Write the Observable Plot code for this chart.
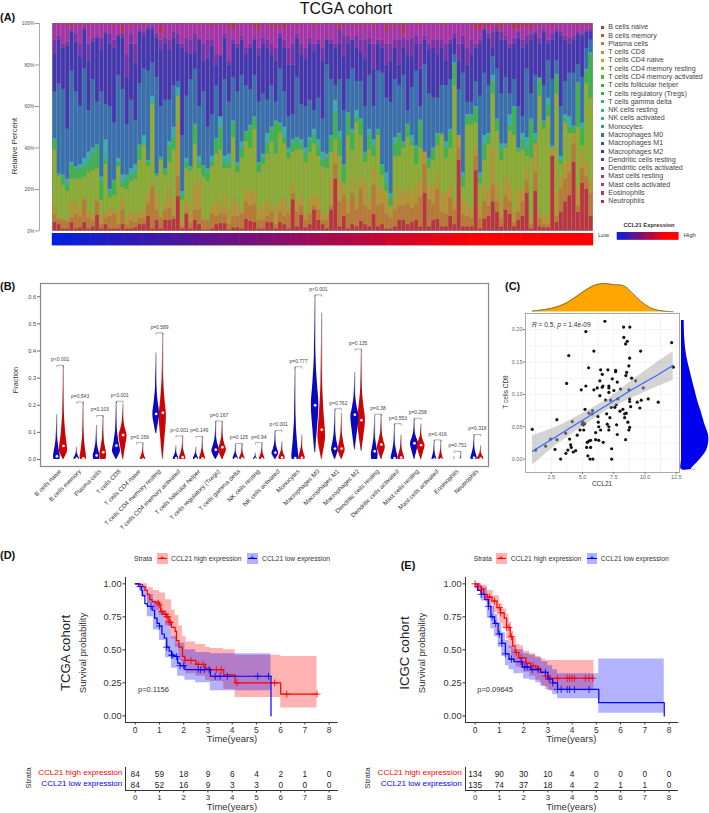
<!DOCTYPE html>
<html><head><meta charset="utf-8">
<script src="https://cdn.jsdelivr.net/npm/d3@7"></script>
<script src="https://cdn.jsdelivr.net/npm/@observablehq/plot@0.6"></script>
<style>
html,body{margin:0;padding:0;background:#fff}
#page{position:relative;width:709px;height:813px;overflow:hidden;font-family:"Liberation Sans",Arial,sans-serif}
#page svg{position:absolute;overflow:visible;background:transparent}
.lb{position:absolute;white-space:nowrap;line-height:1.2}
</style></head><body><div id="page"></div>
<script>
// ---------- Panel A data: cumulative percent read at the top of each visible band, one value per sample
const cellTypes=["B cells naive","B cells memory","Plasma cells","T cells CD8","T cells CD4 naive","T cells CD4 memory resting","T cells CD4 memory activated","T cells follicular helper","T cells regulatory (Tregs)","T cells gamma delta","NK cells resting","NK cells activated","Monocytes","Macrophages M0","Macrophages M1","Macrophages M2","Dendritic cells resting","Dendritic cells activated","Mast cells resting","Mast cells activated","Eosinophils","Neutrophils"];
const cellColors=["#c0333b","#c0552e","#bd7a2e","#b8962e","#a6ac2e","#8cb02e","#5bb32e","#3ab532","#30b552","#30b57e","#2fb39c","#2fadb2","#3093ba","#3070b8","#3050b8","#3a30b8","#6030b8","#8530b5","#a830b0","#b530a0","#b83080","#bb3058"];
const topBNaive=[4,3,1,1,4,1,1.5,4,1,2,7.5,1,3,1,1,1,3,1,1,1.5,3,3,7,1,5,1,5,5,5.5,16.5,1,8,1,
5,3,.5,.5,1,3,3.5,3.5,.5,1.5,1.5,1,5.5,4.5,4,1,1,4,4,1,4,3,1,15,2,7.5,1.5,3,10,5,3,1,10,
25,2,7,1,3,2,4.5,3,2,8,2,3,1,1,2,5,5,3,4,5,2,18,2,5,5.5,2,2,7,3,34,2,2,2,
29,1,5.5,7,14,9,2,10,8,2,5,7,18,1,19,2,1.5,1.5,36,4,9,14,17,33,9,23,20,7];
const topPlasma=[8,5.5,5,4.5,6,8,7,15,6,5,14,3,6,7,8,3,10,3,5,4,6,6,13,21,10,6,10,11,7,26,2,9,4,
10,10,5,5,8,7,8,8,3,7,7,8,14,12,13,5,5,7,9,3,9,7,8,18,9,12,5,8,12,10,5,5,12,
32,14,17,8,18,10,20,12,10,22,12,13,8,6,10,12,12,13,11,13,16,32,15,13,20,9,8,16,10,40,8,7,6,
36,6,14,12,22,14,6,17,14,4,9,14,24,3,28,6,3,3,36.5,7,20,25,28,42,12,30,26,18];
const topCD8=[12,6,6,5,14,14,10,16,9,8,16,7,9,11,10,8,16,6,10,8,9,10,18,21.5,17,8,13,20,15,52,5,14,12,
22,24,7,5,12,15,12,17,10,16,13,10,20,18,20,10,12,15,12,10,14,16,12,22,14,17,8,15,18,16,9,8,25,
38,25,21,15,25,15,26,23,15,30,20,20,17,11,15,20,18,21,18,22,24,38,21,22,28,18,18,22,14,46,15,12,11,
40,12,21,20,40,22,14,26,23,9,19,20,30,7,42,10,6,7,40,18,26,32,34,47,21,38,33,24];
const topCD4Resting=[39,26,22,19,25,25,25,26,28,29,30,15,32,16,17,31,21,20,24,25,34,41,31,61,26,34,27,33,39,65,15,30,29,
42,30,26,24,31,37,39,30,30,45,28,35,43,40,49,28,32,37,43,37,47,42,35,38,39,39,33,38,42,36,31,30,38,
44,36,23,46,39,52,46,33,39,36,46,27,19,12,36,36,40,45,41,32,40,25,30,34,41,46,35,40,70,22,21,51,51,
52,23,34,42,66,48,34,40,48,46,38,39,36,35,40,65,49,55,36,66,32,52,47,45,50,41,71,64];
const topTregs=[44,27,26,22,32,30,30,31,33,37,41,24,35,19,24,33,23,25,27,28,41,41.5,33,62,27,35,29,41,45,65.5,17,33,30,
51,33,31,28,33,44,50,33,32,52,31,40,47,50,54,32,35,42,49,52,51,45,38,42,44,41,37,43,46,41,34,35,45,
57,45,31,56,47,55,53,37,46,41,48,31,23,16,42,46,42,51,43,40,53,31,34,39,46,47,40,48,80,27,26,55,55,
59,26,42,46,72,53,39,41,51,59,39,44,40,53,44,73,52,61,40,75,34,54,50,50,71,49,77,85];
const topNKActivated=[44.5,27.5,27,25,33,31,32,35,38,40,41.5,26,44,20,24.5,35,27,27,30,32,41.5,46,34,65,27.5,35.5,30,43,50,69,19,35,31,
51.5,36,31.5,30,36,44.5,55,36,37,53,33,43,48,51,55,33,37,47,50,53,52,50,40,44,45,44,40,45,49,44,38,37,46,
63,48,32,57,49,58,54,38,49,44,49,32,28,18,45,47,43,51.5,46,41,53.5,33,35,40,47,47,43,49,81,29,28,56,56,
60,28,46,47,75,54,42,42,56,60,40,47,45,54,47,73.5,53,64,41,75.5,36,56,55,50.5,71.5,52,78,86];
const topM0=[67,71,68,49,77,67,60,78,58,73,62,67,61,60,52,75,68,51,63,53,71,78,77,81,74,60,63,63,70,72,46,65,73,
78,60,67,50,56,70,55,73,62,74,67,75,70,68,75,62,66,63,70,62,78,67,55,56,74,61,60,63,58,64,54,80,73,
70,73,58,73,78,72,72,60,75,60,77,76,64,62,73,70,75,58,69,77,60,80,66,64,64,70,70,73,85,68,76,62,62,
72,65,76,70,84,78,66,74,66,73,60,55,78,66,75,74,70,82,73,82,60,72,76,76,80,74,88,92];
const topM2=[85,92,88,89,96,91,84,97,82,91,93,87,95,90,88,94,93,74,90,81,96,94,97,97,93,87,90,87,93,90,88,86,85,
86,92,82,83,89,80,84,93,80,90,88,92,85,88,92,84,90,88,85,82,93,88,80,80,93,85,83,90,86,90,82,92,90,
88,90,84,90,92,88,86,83,90,78,90,88,80,82,88,80,88,85,84,90,78,92,87,88,85,88,82,90,93,82,90,80,85,
88,90,97,93,88,96,92,92,88,90,93,88,90,92,95,90,96,90,92,96,94,92,90,92,95,94,96,96];
const topDendritic=[92,94,90,91,97,95,90,98,90,93,94,93,96,95,92,95,95,85,95,90,97,96,98,98,95,92,93,92,96,95,90,93,92,
95,93,90,92,92,85,85,95,82,92,90,94,88,90,93,88,93,92,90,88,95,92,88,90,95,90,88,93,90,92,88,93,92,
90,97,94,94,92,94,92,92,93,90,92,92,90,90,92,92,93,92,93,94,90,94,90,92,92,92,90,92,95,90,94,88,92,
90,92,97,95,96,98,96,94,90,93,96,92,94,95,96,93,97,92,95,97,96,94,93,94,96,95,96.5,97];
const topMast=[100,99,100,99,98,100,99,99,99,100,100,99,100,100,99,100,89,100,98,100,100,99,100,100,100,95,100,100,100,100,100,99,100,
100,99,99,100,98,99,100,100,98,97,100,100,99,100,98,97,100,100,98,98,100,97,99,100,98,100,100,100,98,100,100,99,100,
100,97,99,100,100,98,100,99,100,98,100,100,96,100,98,100,95,100,100,99,98,100,100,100,99,100,98,100,100,100,100,100,100,
97,97,99,98,100,98,97,100,99,97,97,99,98,97,100,99,100,100,98,100,99,100,100,99,99,100,99,100];
const ccl21Rank=topBNaive.map((_,i)=>i);

// ---------- Panel B data (one value per cell type)
const vTopBlue=[.165,.045,.125,.213,0,.393,.05,.045,.14,.055,.023,.105,.34,.605,.185,.32,.16,.13,.15,.07,.01,.09];
const vTopRed=[.345,.21,.16,.203,.06,.465,.085,.083,.14,.057,.06,.065,.09,.54,.17,.405,.165,.09,.13,.07,.028,.05];
const vMedBlue=[.012,.004,.015,.051,0,.168,.005,.003,.036,.004,.002,.025,.005,.2,.04,.165,.03,.005,.06,.001,0,.006];
const vMedRed=[.05,.004,.027,.09,.001,.172,.008,.004,.045,.004,.003,.007,.006,.11,.04,.145,.055,.007,.053,.001,0,.004];
const vBotBlue=[0,0,0,0,0,.095,0,0,0,0,0,0,0,.025,0,.035,0,0,0,0,0,0];
const vBotRed=[0,0,0,0,0,0,0,0,0,0,0,0,0,0,0,.03,0,0,0,0,0,0];
const vPeakBlue=[.01,.004,.012,.03,0,.165,.005,.004,.03,.004,.002,.022,.005,.2,.035,.16,.02,.005,.06,.001,0,.006];
const vPeakRed=[.03,.004,.02,.09,.001,.16,.006,.004,.035,.004,.003,.008,.006,.08,.035,.145,.045,.006,.052,.001,0,.004];
const vWidthBlue=[.17,.14,.17,.2,0,.17,.14,.13,.2,.13,.1,.17,.17,.19,.17,.2,.17,.17,.2,.12,.03,.16];
const vWidthRed=[.2,.16,.17,.2,.14,.18,.16,.15,.2,.14,.14,.16,.17,.19,.18,.2,.2,.17,.2,.12,.04,.16];
const pLabels=["p<0.001","p=0.543","p=0.103","p<0.001","p=0.159","p=0.589","p<0.001","p=0.149","p=0.167","p=0.125","p=0.94","p<0.001","p=0.777","p<0.001","p=0.762","p=0.135","p=0.38","p=0.553","p=0.258","p=0.416","p=0.751","p=0.318"];

// ---------- Panel C data
const ccl21=[.98,1.25,2.05,2.45,2.8,2.95,2.95,3.25,3.67,3.65,3.73,3.9,3.83,3.97,4.05,4.1,4.26,4.45,4.18,4.58,4.8,4.9,4.98,5.06,5.17,5.03,5.1,5.27,5.27,5.2,5.33,5.38,5.43,5.49,5.51,5.6,5.51,5.65,5.65,5.8,5.83,5.78,5.91,5.91,6.05,6.05,6.23,6.18,6.3,6.26,6.3,6.39,6.39,6.45,6.58,6.45,6.58,6.63,6.66,6.79,6.85,6.93,6.98,7.03,7.11,7.11,7.11,7.11,7.11,7.19,7.25,7.33,7.33,7.3,7.38,7.51,7.59,7.65,7.65,7.7,7.73,7.78,7.78,7.83,8.05,8,8.23,8.29,8.31,8.37,8.45,8.58,8.45,8.37,8.5,8.53,8.47,8.63,8.71,8.77,8.77,8.79,8.71,8.77,8.71,8.77,8.85,8.93,9.25,9.38,9.59,9.65,9.7,9.86,10.26,11.06,12.13,12.26];
const cd8=[.046,.014,.02,.031,.015,.03,.061,0,.009,.04,.117,.16,.014,.031,.022,.018,.011,.013,.058,.037,.045,.107,.054,.053,.055,.057,.045,.197,.113,.077,.018,.026,.005,.141,.071,0,.028,.018,.029,.075,0,.07,.167,.107,.041,.03,.066,.11,.029,.057,.05,.098,.121,.138,.131,.045,.111,.113,.026,.213,.091,.07,.054,.138,.113,.11,.103,.05,.045,.064,.091,.016,0,.08,.124,.106,.08,.137,.135,.084,.053,.119,.038,.093,.108,.074,.077,.204,.188,.07,.178,.182,.03,.064,.071,.134,.129,.057,.107,.156,.093,.204,.144,.049,.045,.089,.081,.125,.121,.088,.079,.167,.091,.11,.093,.088,.18,.142];
const fitX=[1,3,5,7,9,11,12.26];
const fitY=[.012,.036,.06,.084,.108,.13,.145];
const fitLow=[-.009,.023,.05,.076,.095,.112,.122];
const fitHigh=[.036,.05,.07,.092,.122,.15,.166];
const densTopX=[.98,2.05,2.97,3.77,4.57,5.37,6.03,6.7,7.5,8.3,8.83,9.37,9.9,10.43,10.97,11.77,12.25];
const densTopH=[.03,.09,.18,.33,.56,.8,.95,1,.96,.92,.74,.5,.3,.15,.07,.02,.01];
const densRightY=[.214,.185,.161,.138,.107,.087,.075,.054,.039,.028,.013,-.001,-.016,-.016];
const densRightW=[2.7,3.3,5,8.3,13.3,16.7,19.3,23.3,26.7,27.3,25,18.3,10,5];

// ---------- Panels D and E data
const timeTicks=[0,1,2,3,4,5,6,7,8];
const dRedT=[0,.2,.3,.4,.5,.6,.7,.85,1,1.05,1.15,1.3,1.4,1.5,1.65,1.7,1.8,1.95,2.05,2.5,2.9,3.1,3.65,4.12,5.7,6,7.5];
const dRedS=[1,.995,.98,.95,.92,.88,.865,.855,.84,.79,.77,.75,.71,.67,.64,.57,.52,.45,.42,.39,.36,.35,.31,.25,.25,.165,.165];
const dRedCiT=[0,.25,.5,.75,1,1.25,1.5,1.65,1.8,1.95,2.1,2.5,2.9,3.1,3.65,4.12,6,7.5];
const dRedHi=[1,1,.97,.95,.93,.88,.8,.76,.68,.6,.56,.54,.52,.51,.5,.46,.45,.45];
const dRedLo=[1,.96,.85,.8,.76,.68,.58,.52,.42,.36,.32,.3,.27,.26,.2,.14,.06,.06];
const dBlueT=[0,.15,.25,.3,.4,.5,.7,.8,.9,1,1.1,1.2,1.3,1.4,1.5,1.6,1.75,1.85,2.05,3.1,5.6];
const dBlueS=[1,.98,.95,.91,.85,.83,.8,.74,.7,.68,.62,.59,.52,.49,.46,.45,.4,.38,.35,.3,0];
const dBlueCiT=[0,.25,.5,.75,1,1.25,1.5,1.75,2.05,2.5,3.1,5.6];
const dBlueHi=[1,.98,.92,.87,.8,.72,.6,.55,.5,.48,.47,.47];
const dBlueLo=[1,.9,.75,.65,.57,.44,.36,.3,.27,.25,.19,.19];
const dRedCens=[.95,1,1.1,1.25,1.3,1.35,1.4,1.45,2.05,2.3,2.6,2.8,3.35,3.55,4.2,5.75,6.25,7.5];
const dBlueCens=[.2,.65,1,1.3,1.5,1.55,1.7,1.85,2,2.6,2.7,2.85,3.05,3.3,3.5,3.8,5.05,5.5];
const dRiskHigh=[84,59,18,9,6,4,2,1,0];
const dRiskLow=[84,52,16,9,3,3,0,0,0];
const eRedT=[0,.1,.25,.35,.5,.7,.9,1.05,1.2,1.3,1.45,1.55,1.65,1.8,2.1,2.3,2.5,2.7,2.9,3.05,4.9];
const eRedS=[1,.98,.96,.92,.9,.87,.82,.78,.74,.67,.6,.53,.48,.44,.4,.38,.36,.33,.3,.285,.285];
const eRedCiT=[0,.25,.5,.75,1,1.15,1.3,1.4,1.5,1.6,1.7,1.85,2,2.25,2.5,2.7,2.9,3.1,4.9];
const eRedHi=[1,.99,.95,.91,.85,.81,.77,.71,.64,.59,.54,.53,.49,.47,.45,.43,.42,.42,.42];
const eRedLo=[.97,.92,.84,.78,.7,.66,.58,.51,.44,.4,.37,.36,.33,.3,.27,.23,.2,.19,.19];
const eBlueT=[0,.1,.25,.4,.55,.65,.8,.95,1.1,1.25,1.4,1.6,1.95,2.3,2.7,3,3.2,3.4,5.1,7.8];
const eBlueS=[.98,.95,.92,.88,.83,.75,.7,.62,.55,.47,.43,.41,.37,.35,.33,.28,.25,.2,.1,0];
const eBlueCiT=[0,.25,.5,.65,.8,.95,1.1,1.25,1.4,1.6,2,2.25,2.5,2.75,3,3.2,3.4,5.1,7.8];
const eBlueHi=[1,.97,.9,.83,.77,.7,.63,.57,.53,.5,.47,.46,.44,.41,.38,.35,.32,.43,.43];
const eBlueLo=[.96,.87,.74,.66,.6,.52,.45,.38,.35,.32,.28,.27,.25,.22,.19,.16,.13,.02,.02];
const eRedCens=[0,.15,.25,.5,.6,.8,1,1.05,1.3,1.4,1.5,1.7,1.9,2.1,2.4,2.6,2.9,3.1,3.4,3.8,3.9,4,4.1,4.55,4.7,4.85];
const eBlueCens=[.25,.55,.7,.85,1,1.1,1.25,1.5,1.9,2.05,2.15,2.35,2.6,2.9,3.05,3.2,3.4,3.55,3.8,3.9,4.1,4.7];
const eRiskHigh=[134,90,30,10,4,0,0,0,0];
const eRiskLow=[135,74,37,18,4,2,1,1,0];
const strata=["CCL21 high expression","CCL21 low expression"];

// ---------- helpers
const page=document.getElementById("page");
const FONT='"Liberation Sans",Arial,sans-serif';
function lb(t,x,y,o={}){const d=document.createElement("div");d.className="lb";d.textContent=t;
 const a={start:"0",middle:"-50%",end:"-100%"}[o.anchor||"start"];
 d.style.cssText+=`left:${x}px;top:${y}px;font-size:${o.size||7}px;color:${o.color||"#222"};font-weight:${o.weight||"normal"};transform:translate(${a},-50%)${o.rotate?` rotate(${o.rotate}deg)`:""};`;
 page.appendChild(d);return d;}
function box(l,t,w,h,c,extra=""){const d=document.createElement("div");d.style.cssText=`position:absolute;left:${l}px;top:${t}px;width:${w}px;height:${h}px;background:${c};${extra}`;page.appendChild(d);return d;}
function place(l,t,r,b,opts,ml=30,mr=30,mt=30,mb=30){
 const p=Plot.plot({width:r-l+ml+mr,height:b-t+mt+mb,marginLeft:ml,marginRight:mr,marginTop:mt,marginBottom:mb,style:{fontFamily:FONT,background:"transparent",overflow:"visible"},...opts});
 p.style.left=(l-ml)+"px";p.style.top=(t-mt)+"px";page.appendChild(p);return p;}

// ---------- Headline labels
lb("TCGA cohort",346,8.5,{size:16,anchor:"middle",color:"#111"});
[["(A)",0,18],["(B)",0,287],["(C)",505,287],["(D)",0,556],["(E)",400.7,565.7]].forEach(([t,x,y])=>lb(t,x,y,{size:11,weight:"bold",color:"#111"}));

// ---------- Panel A
const bands=[["B naive",topBNaive,cellColors[0]],["Plasma",topPlasma,cellColors[2]],["CD8",topCD8,cellColors[3]],["CD4 resting",topCD4Resting,cellColors[5]],["Tregs",topTregs,"#3ab54a"],["NK activated",topNKActivated,"#33b0ac"],["M0",topM0,"#3570b2"],["M2",topM2,"#4435b5"],["Dendritic",topDendritic,"#7a30b0"],["Mast",topMast,"#ac30ae"],["Neutrophils",topBNaive.map(()=>100),"#bb3058"]];
const lens=bands.map(b=>b[1].length);if(new Set(lens).size>1)throw new Error("length mismatch "+lens.join());
const stackRows=[];
ccl21Rank.forEach(i=>{let prev=0;bands.forEach(([n,a,c])=>{const top=Math.max(prev,a[i]);stackRows.push({i,y1:prev,y2:top,c});prev=top;});});
box(52,23.3,541,207.4,"#8e8e8e");
place(52,23.3,593,230.7,{
 x:{type:"band",domain:ccl21Rank,padding:.14,axis:null},
 y:{domain:[0,100],axis:null},
 marks:[Plot.barY(stackRows,{x:"i",y1:"y1",y2:"y2",fill:"c"}),
  Plot.axisY({ticks:[0,20,40,60,80,100],tickFormat:d=>d+"%",anchor:"left",dx:-13,tickSize:4,tickPadding:1,fontSize:5,stroke:"#999",color:"#555",label:null})]
});
box(38.6,23,1,208,"#aaa");
lb("Relative Percent",14.5,146,{size:7.7,anchor:"middle",rotate:-90,color:"#333"});
place(52,233.3,593,245.7,{
 x:{type:"band",domain:ccl21Rank,padding:0,axis:null},y:{axis:null,domain:[0,1]},
 color:{type:"linear",domain:[0,100],range:["#0020e0","#ff0000"],clamp:true},
 marks:[Plot.barY(ccl21Rank,{x:d=>d,y:()=>1,fill:d=>d,insetLeft:-.3,insetRight:-.3})]
},5,5,5,5);
// legend
cellTypes.forEach((t,i)=>{const y=27.3+i*8.285;box(600.9,y-1.6,3.2,3.2,cellColors[i]);lb(t,608.3,y,{size:7.1,color:"#444"});});
lb("CCL21 Expression",649,225,{size:5.8,anchor:"middle",weight:"bold",color:"#333"});
lb("Low",598,236,{size:6,color:"#333"});lb("High",683.5,236,{size:6,color:"#333"});
place(616.7,231.7,678,239.3,{x:{type:"band",domain:ccl21Rank,padding:0,axis:null},y:{axis:null,domain:[0,1]},
 color:{type:"linear",domain:[0,100],range:["#0020e0","#ff0000"],clamp:true},
 marks:[Plot.barY(ccl21Rank,{x:d=>d,y:()=>1,fill:d=>d,insetLeft:-.3,insetRight:-.3})]},5,5,5,5);

// ---------- Panel B
const off=.167, vio=[], meds=[], stems=[], brk=[], pText=[];
function profile(k,cx,group,top,bot,peak,w,c){
 if(top<=0)return;
 const pts=[[bot,bot<peak-.02?.05*w:.85*w]];
 if(peak-bot>.02)pts.push([peak-(peak-bot)*.5,.6*w]);
 pts.push([peak,w],[peak+(top-peak)*.2,.6*w],[peak+(top-peak)*.45,.2*w],[top,.02*w]);
 pts.forEach(([y,hw])=>vio.push({id:k+group,x1:cx-hw,x2:cx+hw,y,c}));
 stems.push({x:cx,y1:bot,y2:top});
}
cellTypes.forEach((n,k)=>{
 const bx=k-off,rx=k+off;
 profile(k,bx,"b",vTopBlue[k],vBotBlue[k],vPeakBlue[k],vWidthBlue[k],"#0505cc");
 profile(k,rx,"r",vTopRed[k],vBotRed[k],vPeakRed[k],vWidthRed[k],"#dd0000");
 if(vTopBlue[k]>0)meds.push({x:bx,y:vMedBlue[k]});
 meds.push({x:rx,y:vMedRed[k]});
 const top=Math.max(vTopBlue[k],vTopRed[k])+.002;
 brk.push({x1:bx,x2:rx,y1:top,y2:top});
 brk.push({x1:bx,x2:bx,y1:top-.007,y2:top});
 brk.push({x1:rx,x2:rx,y1:top-.007,y2:top});
 pText.push({x:k,y:top+.021,t:pLabels[k]});
});
place(40,283,488,466,{
 x:{domain:[-.991,21.56],axis:null},
 y:{domain:[-.026,.649],axis:null},
 marks:[
  Plot.frame({stroke:"#888",strokeWidth:1.2}),
  Plot.link(brk,{x1:"x1",x2:"x2",y1:"y1",y2:"y2",stroke:"#777",strokeWidth:.6}),
  Plot.areaX(vio,{z:"id",y:"y",x1:"x1",x2:"x2",fill:"c",curve:"catmull-rom",sort:"y"}),
  Plot.ruleX(stems,{x:"x",y1:"y1",y2:"y2",stroke:"#333",strokeWidth:.55,strokeOpacity:.8}),
  Plot.dot(meds,{x:"x",y:"y",r:1.2,fill:"#fff",stroke:"#fff",strokeWidth:.3}),
  Plot.text(pText,{x:"x",y:"y",text:"t",fontSize:5,fill:"#444"}),
  Plot.axisY({ticks:[0,.1,.2,.3,.4,.5,.6],tickFormat:".1f",anchor:"left",tickSize:3,tickPadding:1.5,fontSize:5.6,stroke:"#666",color:"#444",label:null}),
  Plot.axisX({ticks:cellTypes.map((_,i)=>i),tickFormat:i=>cellTypes[i],tickRotate:-45,anchor:"bottom",tickSize:0,tickPadding:4,fontSize:6.2,color:"#333",label:null})
 ]
},30,30,30,80);
lb("Fraction",15.7,380,{size:7.3,anchor:"middle",rotate:-90,color:"#333"});

// ---------- Panel C
const xC=[.44,12.76], yC=[-.0207,.225];
const pts=ccl21.map((x,i)=>({x,y:cd8[i]}));
const fit=fitX.map((x,i)=>({x,y:fitY[i],lo:fitLow[i],hi:fitHigh[i]}));
place(525,312.7,679,471.7,{
 x:{domain:xC,axis:null},y:{domain:yC,axis:null},
 marks:[
  Plot.gridX({ticks:[1.25,2.5,3.75,5,6.25,7.5,8.75,10,11.25,12.5],stroke:"#ebebeb",strokeOpacity:1,strokeWidth:.6}),
  Plot.gridY({ticks:[0,.025,.05,.075,.1,.125,.15,.175,.2,.225],stroke:"#ebebeb",strokeOpacity:1,strokeWidth:.6}),
  Plot.frame({stroke:"#aaa",strokeWidth:1}),
  Plot.dot(pts,{x:"x",y:"y",r:1.6,fill:"#111"}),
  Plot.areaY(fit,{x:"x",y1:"lo",y2:"hi",fill:"#aaa",fillOpacity:.5}),
  Plot.line(fit,{x:"x",y:"y",stroke:"#3366ff",strokeWidth:1.1}),
  Plot.axisX({ticks:[2.5,5,7.5,10,12.5],tickFormat:".1f",anchor:"bottom",tickSize:2,tickPadding:1,fontSize:5.5,stroke:"#777",color:"#666",label:null}),
  Plot.axisY({ticks:[0,.05,.1,.15,.2],tickFormat:".2f",anchor:"left",tickSize:2,tickPadding:1,fontSize:5.5,stroke:"#777",color:"#666",label:null})
 ]
});
const rLabel=lb("R = 0.5, p = 1.4e-09",532,325,{size:6.6,color:"#333"});
rLabel.innerHTML="<i>R</i> = 0.5, <i>p</i> = 1.4e-09";
lb("CCL21",602,484,{size:6.5,anchor:"middle",color:"#333"});
lb("T cells CD8",506,392,{size:6.5,anchor:"middle",rotate:-90,color:"#333"});
const dTop=densTopX.map((x,i)=>({x,h:densTopH[i]}));
place(525,282.5,679,311,{x:{domain:xC,axis:null},y:{domain:[0,1],axis:null},
 marks:[Plot.areaY(dTop,{x:"x",y:"h",fill:"#ffa500",curve:"catmull-rom"}),Plot.line(dTop,{x:"x",y:"h",stroke:"#555",strokeWidth:.7,curve:"catmull-rom"})]});
const dRight=densRightY.map((y,i)=>({y,w:densRightW[i]}));
place(681,312.7,709,471.7,{x:{domain:[0,28],axis:null},y:{domain:yC,axis:null},
 marks:[Plot.areaX(dRight,{y:"y",x:"w",fill:"#0000ee",curve:"catmull-rom"})]});

// ---------- Panels D and E
function stepAt(T,S,t){let s=S[0];T.forEach((x,i)=>{if(x<=t)s=S[i];});return s;}
function km(cfg){
 const {x0,axisL,axisR,redT,redS,redCiT,redHi,redLo,blueT,blueS,blueCiT,blueHi,blueLo,redCens,blueCens,riskHigh,riskLow,pText,cohort,cohortX,survX,textX,textLegend}=cfg;
 const pxY=24.25; const xDom=[(axisL-x0)/pxY,(axisR-x0)/pxY];
 const tbl=(T,A,B)=>T.map((t,i)=>({t,a:A[i],b:B?B[i]:null}));
 place(axisL,576.7,axisR,721.7,{
  x:{domain:xDom,axis:null},y:{domain:[-.05,1.048],axis:null},
  marks:[
   Plot.areaY(tbl(redCiT,redLo,redHi),{x:"t",y1:"a",y2:"b",fill:"#ff0000",fillOpacity:.3,curve:"step-after"}),
   Plot.areaY(tbl(blueCiT,blueLo,blueHi),{x:"t",y1:"a",y2:"b",fill:"#0000ff",fillOpacity:.3,curve:"step-after"}),
   Plot.line(tbl(redT,redS),{x:"t",y:"a",stroke:"#ff0000",strokeWidth:1.2,curve:"step-after"}),
   Plot.line(tbl(blueT,blueS),{x:"t",y:"a",stroke:"#0000ff",strokeWidth:1.2,curve:"step-after"}),
   Plot.dot(redCens,{x:d=>d,y:d=>stepAt(redT,redS,d),symbol:"plus",r:2.4,stroke:"#ff0000",strokeWidth:.8}),
   Plot.dot(blueCens,{x:d=>d,y:d=>stepAt(blueT,blueS,d),symbol:"plus",r:2.4,stroke:"#0000ff",strokeWidth:.8}),
   Plot.ruleX([xDom[0]],{stroke:"#333",strokeWidth:1}),
   Plot.ruleY([-.05],{stroke:"#333",strokeWidth:1}),
   Plot.axisX({ticks:timeTicks,tickFormat:d=>d,anchor:"bottom",tickSize:2.5,tickPadding:1.5,fontSize:8.5,stroke:"#333",color:"#333",label:null}),
   Plot.axisY({ticks:[0,.25,.5,.75,1],tickFormat:".2f",anchor:"left",tickSize:2.5,tickPadding:1.5,fontSize:9.2,stroke:"#333",color:"#333",label:null})
  ]
 },40,20,10,30);
 lb(pText,x0+3,689,{size:7.5,color:"#333"});
 lb("Time(years)",x0+97,739,{size:9.5,anchor:"middle",color:"#333"});
 lb(cohort,cohortX,653,{size:13.2,anchor:"middle",rotate:-90,color:"#222"});
 lb("Survival probability",survX,653,{size:9.6,anchor:"middle",rotate:-90,color:"#333"});
 // legend row
 const ly=558.5, [sx,k1,t1,k2,t2]=textLegend;
 lb("Strata",sx,ly,{size:6.8,color:"#333"});
 [[k1,"#ff0000",t1,strata[0]],[k2,"#0000ff",t2,strata[1]]].forEach(([k,c,t,s])=>{
  box(k,553,10.5,10.5,c,"opacity:.3");box(k+.5,ly-.4,9.5,1,c);lb("+",k+5.2,ly-.3,{size:8,anchor:"middle",color:c});
  lb(s,t,ly,{size:6.8,color:"#333"});});
 // risk table
 const riskRows=[];timeTicks.forEach((t,i)=>{riskRows.push({t,s:strata[0],n:riskHigh[i]});riskRows.push({t,s:strata[1],n:riskLow[i]});});
 place(axisL,767,axisR,790,{
  x:{domain:xDom,axis:null},y:{type:"band",domain:strata,axis:null,padding:0},
  marks:[
   Plot.text(riskRows,{x:"t",y:"s",text:d=>String(d.n),fontSize:8.3,fill:"#222"}),
   Plot.ruleX([xDom[0]],{stroke:"#333",strokeWidth:1}),
   Plot.axisX({ticks:timeTicks,tickFormat:d=>d,anchor:"bottom",tickSize:2.5,tickPadding:1,fontSize:8,stroke:"#333",color:"#333",label:null})
  ]
 },10,10,5,15);
 box(axisL,790,axisR-axisL,1,"#333");
 lb(strata[0],axisL-3,773.3,{size:8.1,anchor:"end",color:"#ff0000"});
 lb(strata[1],axisL-3,784,{size:8.1,anchor:"end",color:"#0000ff"});
 lb("Strata",textX,778,{size:8,anchor:"middle",rotate:-90,color:"#333"});
 lb("Time(years)",x0+97,807,{size:9.5,anchor:"middle",color:"#333"});
}
km({x0:135,axisL:125.3,axisR:338,redT:dRedT,redS:dRedS,redCiT:dRedCiT,redHi:dRedHi,redLo:dRedLo,blueT:dBlueT,blueS:dBlueS,blueCiT:dBlueCiT,blueHi:dBlueHi,blueLo:dBlueLo,redCens:dRedCens,blueCens:dBlueCens,riskHigh:dRiskHigh,riskLow:dRiskLow,pText:"p=0.1156",cohort:"TCGA cohort",cohortX:66,survX:82.5,textX:28.7,textLegend:[134,157,171,247,262]});
km({x0:474.3,axisL:464.7,axisR:678,redT:eRedT,redS:eRedS,redCiT:eRedCiT,redHi:eRedHi,redLo:eRedLo,blueT:eBlueT,blueS:eBlueS,blueCiT:eBlueCiT,blueHi:eBlueHi,blueLo:eBlueLo,redCens:eRedCens,blueCens:eBlueCens,riskHigh:eRiskHigh,riskLow:eRiskLow,pText:"p=0.09645",cohort:"ICGC cohort",cohortX:405,survX:422,textX:368,textLegend:[473.7,496,510.7,586.7,600.7]});
</script></body></html>
